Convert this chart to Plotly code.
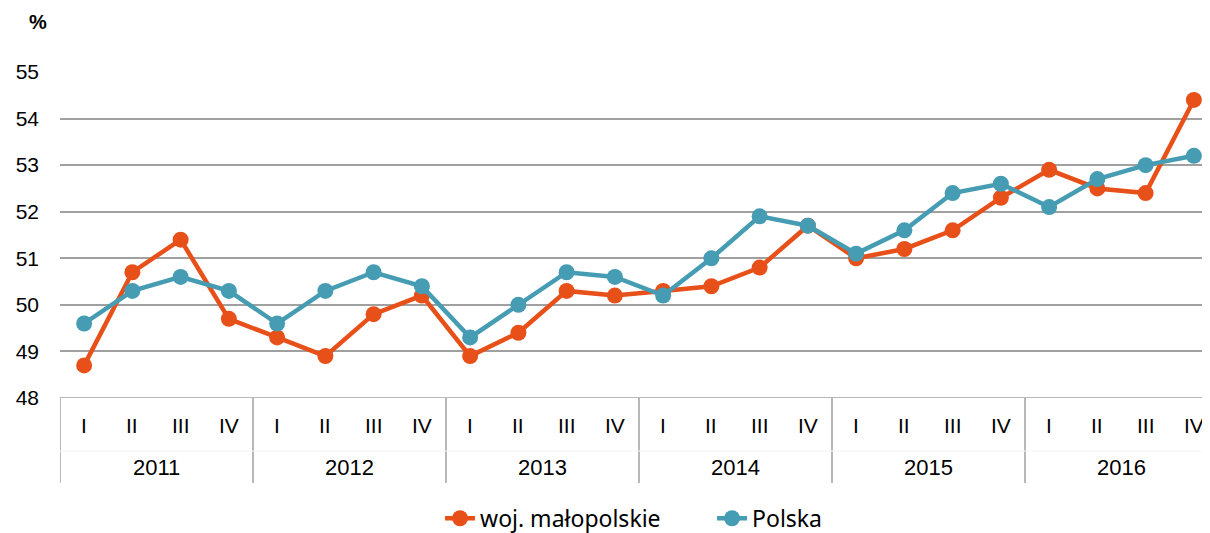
import plotly.graph_objects as go

years = ["2011", "2012", "2013", "2014", "2015", "2016"]
quarters = ["I", "II", "III", "IV"]
malopolskie = [48.7, 50.7, 51.4, 49.7,
               49.3, 48.9, 49.8, 50.2,
               48.9, 49.4, 50.3, 50.2,
               50.3, 50.4, 50.8, 51.7,
               51.0, 51.2, 51.6, 52.3,
               52.9, 52.5, 52.4, 54.4]
polska = [49.6, 50.3, 50.6, 50.3,
          49.6, 50.3, 50.7, 50.4,
          49.3, 50.0, 50.7, 50.6,
          50.2, 51.0, 51.9, 51.7,
          51.1, 51.6, 52.4, 52.6,
          52.1, 52.7, 53.0, 53.2]
y_ticks = [48, 49, 50, 51, 52, 53, 54, 55]

x = list(range(len(years) * len(quarters)))

FONT = "Liberation Sans"
PLOT_H = 326

fig = go.Figure()
fig.add_trace(go.Scatter(x=x, y=malopolskie, name="woj. małopolskie", mode="lines+markers",
                         line=dict(color="#E8501A", width=4.5),
                         marker=dict(color="#E8501A", size=16), cliponaxis=False))
fig.add_trace(go.Scatter(x=x, y=polska, name="Polska", mode="lines+markers",
                         line=dict(color="#459CB3", width=4.5),
                         marker=dict(color="#459CB3", size=16), cliponaxis=False))

annotations = []
shapes = []
for i, xi in enumerate(x):
    annotations.append(dict(x=xi, y=0, xref="x", yref="paper", yshift=-27, showarrow=False,
                            text=quarters[i % 4], yanchor="middle",
                            font=dict(size=21, color="#000000", family=FONT)))
for j, yr in enumerate(years):
    annotations.append(dict(x=j * 4 + 1.5, y=0, xref="x", yref="paper", yshift=-69, showarrow=False,
                            text=yr, yanchor="middle",
                            font=dict(size=22, color="#000000", family=FONT)))
    shapes.append(dict(type="line", xref="x", yref="paper", x0=j * 4 - 0.5, x1=j * 4 - 0.5,
                       y0=0, y1=-85 / PLOT_H, line=dict(color="#A0A0A0", width=1.5)))
shapes.append(dict(type="line", xref="x", yref="paper", x0=-0.5, x1=23.5,
                   y0=-53 / PLOT_H, y1=-53 / PLOT_H, line=dict(color="#F4F4F4", width=1)))
shapes.append(dict(type="line", xref="paper", yref="y", x0=0, x1=1, y0=48, y1=48,
                   line=dict(color="#A0A0A0", width=1.5)))
annotations.append(dict(x=(38 - 60) / 1150, y=1 + (72 - 22) / PLOT_H, xref="paper", yref="paper",
                        xanchor="center", yanchor="middle", showarrow=False, text="<b>%</b>",
                        font=dict(size=20, color="#000000", family=FONT)))

fig.update_layout(
    width=1202, height=525,
    margin=dict(l=52, r=0, t=64, b=135, autoexpand=False),
    plot_bgcolor="white", paper_bgcolor="white",
    showlegend=True,
    legend=dict(orientation="h", x=0.567, xanchor="center", yref="container", y=0.028,
                yanchor="middle", entrywidth=227,
                font=dict(size=23, family="Noto Sans", color="#000000"),
                tracegroupgap=0),
    xaxis=dict(range=[-0.5, 23.5 - 8 / 48.25], showticklabels=False, showgrid=False,
               zeroline=False, showline=False, fixedrange=True),
    yaxis=dict(range=[48, 55], tickvals=y_ticks, ticktext=[str(v) for v in y_ticks],
               showgrid=True, gridcolor="#A0A0A0", gridwidth=1.5, zeroline=False,
               showline=False, ticks="", ticklabelstandoff=20,
               tickfont=dict(size=21, color="#000000", family=FONT)),
    annotations=annotations,
    shapes=shapes,
)
fig.write_html("out.html")
